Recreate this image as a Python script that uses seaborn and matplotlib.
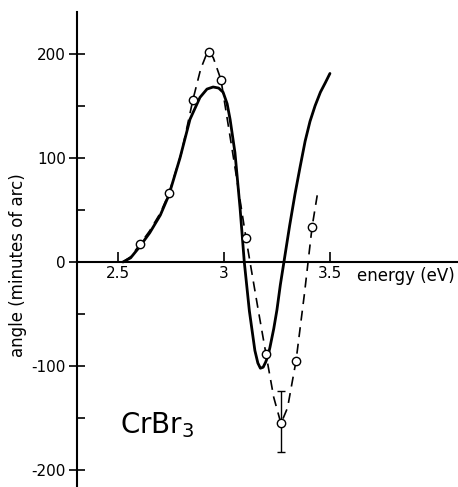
import numpy as np
import pandas as pd
import matplotlib
matplotlib.use("Agg")
import matplotlib.pyplot as plt
import seaborn as sns
from matplotlib.ticker import FixedLocator

# measured points (open circles)
pt_energy = [2.604, 2.741, 2.854, 2.930, 2.986, 3.104, 3.198, 3.269, 3.340, 3.416]
pt_angle = [17, 66, 156, 202, 175, 23, -88, -155, -95, 34]

# error bar on the minimum point
err_energy = 3.269
err_low = -182
err_high = -124

# dashed curve through the measurements
dash_energy = [2.524, 2.56, 2.604, 2.65, 2.70, 2.741, 2.80, 2.854, 2.89, 2.915, 2.930, 2.95,
               2.986, 3.045, 3.104, 3.123, 3.16, 3.198, 3.235, 3.269, 3.30, 3.340, 3.38,
               3.416, 3.44]
dash_angle = [0, 5, 17, 30, 47, 66, 105, 156, 185, 198, 202, 196,
              175, 100, 23, 0, -44, -88, -130, -155, -140, -95, -30,
              34, 64]

# solid (calculated) curve
solid_energy = [2.524, 2.56, 2.60, 2.65, 2.70, 2.74, 2.793, 2.840, 2.887, 2.92, 2.949,
                2.975, 2.996, 3.015, 3.029, 3.052, 3.076, 3.096, 3.12, 3.146, 3.16, 3.172,
                3.185, 3.197, 3.208, 3.217, 3.235, 3.25, 3.266, 3.283, 3.31, 3.335, 3.359,
                3.383, 3.406, 3.43, 3.455, 3.478, 3.50]
solid_angle = [0, 4, 14, 28, 45, 64, 100, 137, 158, 166, 168,
               167, 163, 152, 137, 105, 52, 0, -47, -85, -97, -102,
               -101, -96, -90, -82, -64, -46, -22, 0, 35, 65, 91,
               116, 135, 150, 163, 172, 181]

x_ticks = [2.5, 3.0, 3.5]
x_ticklabels = ["2.5", "3", "3.5"]
y_ticks = [-200, -100, 0, 100, 200]
y_ticklabels = ["-200", "-100", "0", "100", "200"]

sns.set_style("white")
plt.rcParams['font.family'] = ['DejaVu Sans']
plt.rcParams['text.color'] = 'black'

fig = plt.figure(figsize=(4.58, 4.87), dpi=100)
ax = fig.add_axes([77 / 458, 0.0, (458 - 77) / 458, 475 / 487])

df_solid = pd.DataFrame({"energy": solid_energy, "angle": solid_angle})
df_dash = pd.DataFrame({"energy": dash_energy, "angle": dash_angle})
df_pts = pd.DataFrame({"energy": pt_energy, "angle": pt_angle})

sns.lineplot(data=df_dash, x="energy", y="angle", ax=ax, color="black", lw=1.2,
             sort=False, estimator=None, zorder=2)
ax.lines[-1].set_dashes([6, 4])
sns.lineplot(data=df_solid, x="energy", y="angle", ax=ax, color="black", lw=2.0,
             sort=False, estimator=None, zorder=3)
ax.lines[-1].set_solid_joinstyle("round")
ax.errorbar([err_energy], [(err_low + err_high) / 2], yerr=[[(err_high - err_low) / 2]],
            fmt="none", ecolor="black", elinewidth=1.0, capsize=3, capthick=1.0, zorder=3)
sns.scatterplot(data=df_pts, x="energy", y="angle", ax=ax, s=36, marker="o",
                facecolor="white", edgecolor="black", linewidth=1.0, zorder=4)

ax.set_xlim(2.307, 4.104)
ax.set_ylim(-216, 240)

for s in ["top", "right"]:
    ax.spines[s].set_visible(False)
ax.spines["bottom"].set_position(("data", 0))
for s in ["left", "bottom"]:
    ax.spines[s].set_linewidth(1.5)
    ax.spines[s].set_color("black")

ax.set_xticks(x_ticks)
ax.set_xticklabels(x_ticklabels)
ax.set_yticks(y_ticks)
ax.set_yticklabels(y_ticklabels)
ax.yaxis.set_minor_locator(FixedLocator([-150, -50, 50, 150]))
ax.tick_params(axis="x", direction="in", length=7, width=1.2, labelsize=11, pad=3,
               bottom=True, colors="black")
ax.tick_params(axis="y", which="major", direction="inout", length=12, width=1.2,
               labelsize=11, left=True, pad=2, colors="black")
ax.tick_params(axis="y", which="minor", direction="in", length=6, width=1.2, left=True,
               colors="black")

ax.set_xlabel("")
ax.set_ylabel("")
fig.text(18 / 458, 1 - 265 / 487, "angle (minutes of arc)", rotation=90, ha="center",
         va="center", fontsize=12, color="black")
fig.text(357 / 458, 1 - 276 / 487, "energy (eV)", ha="left", va="center", fontsize=12,
         color="black")
fig.text(120 / 458, 1 - 425 / 487, r"CrBr$_3$", ha="left", va="center", fontsize=20,
         color="black")

fig.savefig("out.png", dpi=100)
